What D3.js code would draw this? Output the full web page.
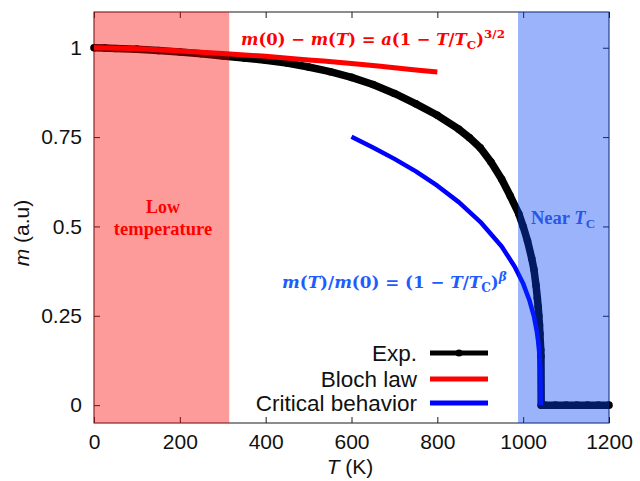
<!DOCTYPE html>
<html>
<head>
<meta charset="utf-8">
<script src="https://cdn.jsdelivr.net/npm/d3@7"></script>
<style>
  html, body { margin: 0; padding: 0; background: #fff; }
  svg { display: block; }
</style>
</head>
<body>
<svg id="chart" width="640" height="481"></svg>
<script>
// Measured magnetization m(T), normalised to m(0)
const tempExp = [0, 25, 50, 100, 150, 200, 250, 300, 350, 400, 450, 500, 550, 600, 650, 700, 750, 800,
  850, 875, 900, 925, 950, 970, 990, 1000, 1010, 1020, 1025, 1030, 1033, 1035, 1036.5, 1038, 1039,
  1040, 1041, 1041.5, 1042, 1050, 1075, 1100, 1125, 1150, 1175, 1200];
const magExp = [1.000, 0.9995, 0.998, 0.996, 0.992, 0.988, 0.983, 0.977, 0.971, 0.965, 0.957, 0.946,
  0.933, 0.917, 0.897, 0.872, 0.843, 0.811, 0.772, 0.748, 0.720, 0.680, 0.632, 0.585, 0.535, 0.500,
  0.460, 0.410, 0.380, 0.335, 0.300, 0.275, 0.250, 0.225, 0.200, 0.175, 0.155, 0.137, 0, 0, 0, 0, 0,
  0, 0, 0];

// Bloch law (low temperature)
const tempBloch = [0, 100, 200, 300, 400, 500, 600, 700, 800];
const magBloch = [1.000, 0.997, 0.991, 0.984, 0.976, 0.966, 0.956, 0.944, 0.932];

// Critical behaviour (near Tc)
const tempCrit = [600, 650, 700, 750, 800, 850, 900, 950, 980, 1000, 1015, 1025, 1032, 1036, 1039, 1040, 1041];
const magCrit = [0.751, 0.721, 0.689, 0.654, 0.614, 0.568, 0.513, 0.444, 0.388, 0.340, 0.292, 0.249,
  0.205, 0.169, 0.124, 0.099, 0];

// Shaded temperature ranges
const lowRange = [0, 315];
const nearRange = [988, 1200];

const xTicks = [0, 200, 400, 600, 800, 1000, 1200];
const yTicks = [0, 0.25, 0.5, 0.75, 1];
const yTickLabels = ["0", "0.25", "0.5", "0.75", "1"];

const legendNames = ["Exp.", "Bloch law", "Critical behavior"];

const svg = d3.select("#chart");
const plotL = 94, plotR = 609, plotT = 12, plotB = 423;

const x = d3.scaleLinear().domain([0, 1200]).range([plotL, plotR]);
const y = d3.scaleLinear().domain([-0.05, 1.1]).range([plotB, plotT]);

const sans = "'Liberation Sans', Arial, sans-serif";
const serif = "'Liberation Serif', 'Times New Roman', serif";
const mathFont = "'DejaVu Serif', 'Liberation Serif', serif";
const axisColor = "#1a1a1a";

// Axes with inward ticks on all four sides
function styleAxis(g) {
  g.select(".domain").remove();
  g.selectAll(".tick line").attr("stroke", axisColor).attr("stroke-width", 1);
  g.selectAll(".tick text").attr("fill", "#111").style("font-family", sans).style("font-size", "21px");
}

svg.append("g").attr("transform", `translate(0,${plotB})`)
  .call(d3.axisBottom(x).tickValues(xTicks).tickFormat(d3.format("d")).tickSize(-6).tickPadding(11))
  .call(styleAxis);
svg.append("g").attr("transform", `translate(0,${plotT})`)
  .call(d3.axisTop(x).tickValues(xTicks).tickFormat("").tickSize(-6))
  .call(styleAxis);
svg.append("g").attr("transform", `translate(${plotL},0)`)
  .call(d3.axisLeft(y).tickValues(yTicks).tickFormat((d, i) => yTickLabels[i]).tickSize(-6).tickPadding(12))
  .call(styleAxis);
svg.append("g").attr("transform", `translate(${plotR},0)`)
  .call(d3.axisRight(y).tickValues(yTicks).tickFormat("").tickSize(-6))
  .call(styleAxis);

svg.append("rect")
  .attr("x", plotL).attr("y", plotT).attr("width", plotR - plotL).attr("height", plotB - plotT)
  .attr("fill", "none").attr("stroke", axisColor).attr("stroke-width", 1);

// Experimental curve
const expPts = tempExp.map((t, i) => [t, magExp[i]]);
const line = d3.line().x(d => x(d[0])).y(d => y(d[1]));
svg.append("path").datum(expPts).attr("d", line)
  .attr("fill", "none").attr("stroke", "#000").attr("stroke-width", 7.5).attr("stroke-linejoin", "round");
svg.append("g").selectAll("circle").data(expPts).join("circle")
  .attr("cx", d => x(d[0])).attr("cy", d => y(d[1])).attr("r", 3.8).attr("fill", "#000");

// Bloch law fit
const blochPts = tempBloch.map((t, i) => [t, magBloch[i]]);
svg.append("path").datum(blochPts).attr("d", d3.line().curve(d3.curveMonotoneX).x(d => x(d[0])).y(d => y(d[1])))
  .attr("fill", "none").attr("stroke", "#ff0000").attr("stroke-width", 5);

// Critical behaviour fit
const critPts = tempCrit.map((t, i) => [t, magCrit[i]]);
svg.append("path").datum(critPts).attr("d", line)
  .attr("fill", "none").attr("stroke", "#0000ff").attr("stroke-width", 4.5).attr("stroke-linejoin", "round");

// Shaded ranges, laid over the data
svg.append("rect")
  .attr("x", x(lowRange[0])).attr("y", plotT).attr("width", x(lowRange[1]) - x(lowRange[0])).attr("height", plotB - plotT)
  .attr("fill", "rgb(250,5,5)").attr("fill-opacity", 0.4);
svg.append("rect")
  .attr("x", x(nearRange[0])).attr("y", plotT).attr("width", x(nearRange[1]) - x(nearRange[0])).attr("height", plotB - plotT)
  .attr("fill", "rgb(5,65,245)").attr("fill-opacity", 0.4);

// Axis titles
const xt = svg.append("text").attr("x", 350).attr("y", 474).attr("text-anchor", "middle")
  .style("font-family", sans).style("font-size", "21px").attr("fill", "#111");
xt.append("tspan").style("font-style", "italic").text("T");
xt.append("tspan").text(" (K)");

const yt = svg.append("text").attr("transform", "translate(29,233) rotate(-90)").attr("text-anchor", "middle")
  .style("font-family", sans).style("font-size", "21px").attr("fill", "#111");
yt.append("tspan").style("font-style", "italic").text("m");
yt.append("tspan").text(" (a.u)");

// Region labels
svg.append("text").attr("x", 163).attr("y", 213).attr("text-anchor", "middle")
  .style("font-family", serif).style("font-weight", "bold").style("font-size", "18px").attr("fill", "#ff0000")
  .text("Low");
svg.append("text").attr("x", 163).attr("y", 235).attr("text-anchor", "middle")
  .style("font-family", serif).style("font-weight", "bold").style("font-size", "18.5px").attr("fill", "#ff0000")
  .text("temperature");

const near = svg.append("text").attr("x", 531).attr("y", 224)
  .style("font-family", serif).style("font-weight", "bold").style("font-size", "18.5px").attr("fill", "#2857e8");
near.append("tspan").text("Near ");
near.append("tspan").style("font-style", "italic").text("T");
near.append("tspan").attr("dy", 4).style("font-size", "13px").text("C");

// Formula helper: pieces are [text, italic?, kind]; sized to span the given width
function formula(xPos, yPos, width, color, parts) {
  const t = svg.append("text").attr("x", xPos).attr("y", yPos)
    .style("font-family", mathFont).style("font-weight", "bold").style("font-size", "20px").attr("fill", color);
  parts.forEach(([s, it, kind]) => {
    const sp = t.append("tspan").text(s);
    if (it) sp.style("font-style", "italic");
    if (kind) sp.style("font-size", "0.72em");
  });
  const base = 20 * width / t.node().getComputedTextLength();
  t.style("font-size", base + "px");
  let shift = 0;
  t.selectAll("tspan").each(function (d, i) {
    const kind = parts[i][2];
    let target = 0;
    if (kind === "sub") target = 0.25 * base;
    if (kind === "sup") target = -0.42 * base;
    d3.select(this).attr("dy", target !== shift ? (target - shift) : null);
    shift = target;
  });
  return t;
}

formula(241, 45, 264, "#ff0000", [
  ["m", true], ["(0) − ", false], ["m", true], ["(", false], ["T", true], [") = ", false],
  ["a", true], ["(1 − ", false], ["T", true], ["/", false], ["T", true], ["C", false, "sub"],
  [")", false], ["3/2", false, "sup"]
]);

formula(282, 288, 225, "#1f5cff", [
  ["m", true], ["(", false], ["T", true], [")/", false], ["m", true], ["(0) = (1 − ", false],
  ["T", true], ["/", false], ["T", true], ["C", false, "sub"], [")", false], ["β", true, "sup"]
]);

// Legend
const legY = [353, 379, 403];
const legColors = ["#000", "#ff0000", "#0000ff"];
legendNames.forEach((name, i) => {
  svg.append("text").attr("x", 417).attr("y", legY[i]).attr("dy", "0.35em").attr("text-anchor", "end")
    .style("font-family", sans).style("font-size", "22.5px").attr("fill", "#111").text(name);
  svg.append("line").attr("x1", 430).attr("x2", 488).attr("y1", legY[i]).attr("y2", legY[i])
    .attr("stroke", legColors[i]).attr("stroke-width", 5);
});
svg.append("circle").attr("cx", 459).attr("cy", legY[0]).attr("r", 3.6).attr("fill", "#000");
</script>
</body>
</html>
